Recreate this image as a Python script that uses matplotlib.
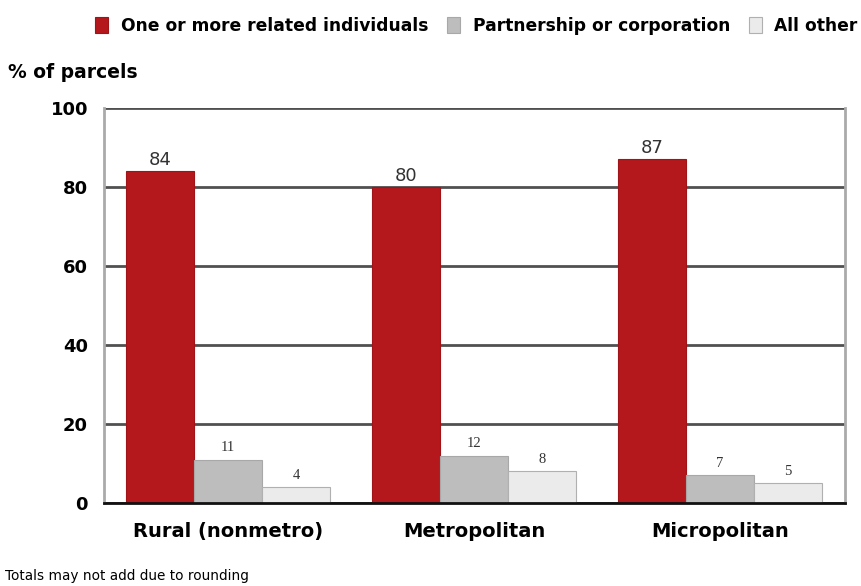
import numpy as np
import matplotlib.pyplot as plt
from matplotlib.patches import Patch

# Parcel ownership type by county type
regions = ["Rural (nonmetro)", "Metropolitan", "Micropolitan"]
series_names = ["One or more related individuals", "Partnership or corporation", "All other"]
individuals = [84, 80, 87]
partnership = [11, 12, 7]
all_other = [4, 8, 5]
y_ticks = [0, 20, 40, 60, 80, 100]

colors = ["#b5181c", "#bdbdbd", "#ebebeb"]
edges = ["#a01418", "#a8a8a8", "#b0b0b0"]

BOLD = {"family": "DejaVu Sans", "weight": "bold"}

fig = plt.figure(figsize=(8.61, 5.86), dpi=100)
ax = fig.add_axes([0.1208, 0.1416, 0.8606, 0.6741])

x = np.arange(len(regions))
width = 0.276
offsets = [-width, 0, width]
for vals, off, c, ec in zip([individuals, partnership, all_other], offsets, colors, edges):
    ax.bar(x + off, vals, width, color=c, edgecolor=ec, linewidth=0.8, zorder=3)

# value labels: big sans for the first series, small serif for the rest
for xi, v in zip(x, individuals):
    ax.text(xi - width, v + 0.6, str(v), ha="center", va="bottom",
            fontsize=13, family="DejaVu Sans", color="#333333", zorder=4)
for vals, off in [(partnership, 0), (all_other, width)]:
    for xi, v in zip(x, vals):
        ax.text(xi + off, v + 1.3, str(v), ha="center", va="bottom",
                fontsize=10.5, family="Liberation Serif", color="#333333", zorder=4)

ax.set_xlim(-0.504, 2.508)
ax.set_ylim(0, 100)
ax.set_yticks(y_ticks)
ax.set_yticklabels([str(t) for t in y_ticks], fontsize=13, **BOLD)
ax.set_xticks(x)
ax.set_xticklabels(regions, fontsize=14, **BOLD)
ax.tick_params(axis="both", length=0)
ax.tick_params(axis="x", pad=14)
ax.tick_params(axis="y", pad=11.5)

ax.yaxis.grid(True, color="#505050", linewidth=2, zorder=1)
for side in ["left", "right", "top"]:
    ax.spines[side].set_color("#aaaaaa")
    ax.spines[side].set_linewidth(2)
ax.spines["top"].set_visible(False)
ax.spines["bottom"].set_color("#111111")
ax.spines["bottom"].set_linewidth(2)
ax.spines["bottom"].set_zorder(5)

handles = [Patch(facecolor=c, edgecolor=ec, linewidth=0.8) for c, ec in zip(colors, edges)]
fig.legend(handles, series_names, loc="center right", bbox_to_anchor=(1.014, 0.956),
           ncol=3, frameon=False, handlelength=0.75, handleheight=1.0,
           handletextpad=0.75, columnspacing=1.1,
           prop={"family": "DejaVu Sans", "weight": "bold", "size": 12.3})

fig.text(0.009, 0.877, "% of parcels", fontsize=13.5, va="center", **BOLD)
fig.text(0.006, 0.017, "Totals may not add due to rounding", fontsize=9.8,
         family="DejaVu Sans", va="center")

fig.savefig("out.png", dpi=100)
